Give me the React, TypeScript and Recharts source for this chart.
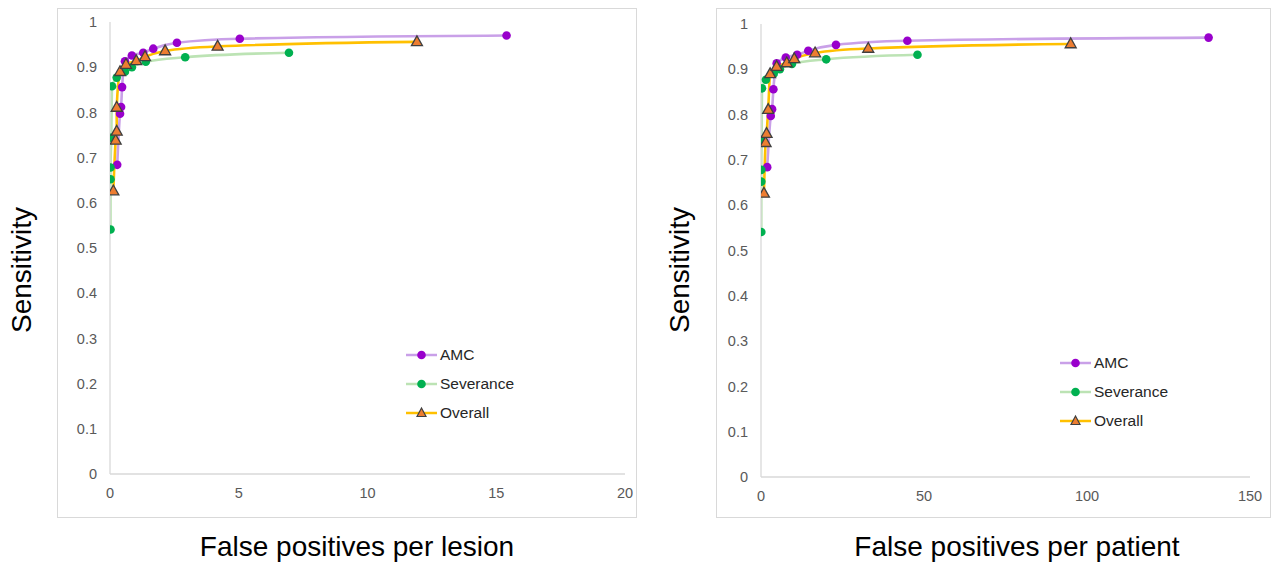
import React from "react";
import { ComposedChart, Line, XAxis, YAxis } from "recharts";

// Sensitivity values per operating point (shared by both panels)
const amcSens = [0.684, 0.797, 0.812, 0.856, 0.913, 0.926, 0.932, 0.941, 0.954, 0.963, 0.970];
const severanceSens = [0.541, 0.652, 0.678, 0.744, 0.858, 0.877, 0.890, 0.900, 0.912, 0.922, 0.932];
const overallSens = [0.626, 0.738, 0.758, 0.811, 0.890, 0.906, 0.914, 0.923, 0.936, 0.946, 0.956];

// False positives per lesion (left panel)
const amcFpLesion = [0.28, 0.39, 0.43, 0.47, 0.58, 0.85, 1.29, 1.68, 2.6, 5.04, 15.4];
const severanceFpLesion = [0.02, 0.02, 0.02, 0.05, 0.08, 0.26, 0.58, 0.85, 1.39, 2.92, 6.95];
const overallFpLesion = [0.13, 0.22, 0.26, 0.26, 0.39, 0.62, 1.02, 1.36, 2.14, 4.18, 11.92];

// False positives per patient (right panel)
const amcFpPatient = [1.9, 3.0, 3.4, 3.8, 4.8, 7.6, 11.1, 14.5, 23.0, 44.9, 137.3];
const severanceFpPatient = [0.1, 0.1, 0.1, 0.2, 0.3, 1.5, 3.9, 5.8, 9.5, 20.0, 48.0];
const overallFpPatient = [0.9, 1.4, 1.7, 2.2, 2.8, 4.8, 7.9, 10.2, 16.6, 32.9, 95.0];

const seriesNames = ["AMC", "Severance", "Overall"];
const yTicks = [0, 0.1, 0.2, 0.3, 0.4, 0.5, 0.6, 0.7, 0.8, 0.9, 1];
const lesionTicks = [0, 5, 10, 15, 20];
const patientTicks = [0, 50, 100, 150];

const FONT = "'Liberation Sans', Arial, sans-serif";
const AMC_LINE = "#C9A0E8";
const AMC_DOT = "#9900CC";
const SEV_LINE = "#BCE3B4";
const SEV_DOT = "#00B050";
const OVR_LINE = "#FFC000";
const OVR_FILL = "#ED7D31";
const OVR_STROKE = "#404040";

const zip = (xs: number[], ys: number[]) => xs.map((x, i) => ({ x, y: ys[i] }));

const circleDot = (color: string) => (props: any) => {
  const { cx, cy, index } = props;
  if (cx == null || cy == null) return <g key={`c-${index}`} />;
  return <circle key={`c-${index}`} cx={cx} cy={cy} r={4.3} fill={color} stroke="none" />;
};

const triDot = (props: any) => {
  const { cx, cy, index } = props;
  if (cx == null || cy == null) return <g key={`t-${index}`} />;
  const pts = `${cx},${cy - 6} ${cx - 5.5},${cy + 3.8} ${cx + 5.5},${cy + 3.8}`;
  return <polygon key={`t-${index}`} points={pts} fill={OVR_FILL} stroke={OVR_STROKE} strokeWidth={1.3} />;
};

const fmtY = (v: number) => String(Math.round(v * 10) / 10);

function LegendBox({ left, top }: { left: number; top: number }) {
  const rows = [
    { name: seriesNames[0], line: AMC_LINE, kind: "c", color: AMC_DOT },
    { name: seriesNames[1], line: SEV_LINE, kind: "c", color: SEV_DOT },
    { name: seriesNames[2], line: OVR_LINE, kind: "t", color: OVR_FILL },
  ];
  return (
    <div style={{ position: "absolute", left, top }}>
      {rows.map((r, i) => (
        <div key={r.name} style={{ position: "absolute", left: 0, top: i * 29 - 10, height: 20, display: "flex", alignItems: "center", whiteSpace: "nowrap" }}>
          <svg width={34} height={20} style={{ display: "block" }}>
            <line x1={0} y1={10} x2={31} y2={10} stroke={r.line} strokeWidth={2.5} />
            {r.kind === "c" ? (
              <circle cx={15.5} cy={10} r={4.3} fill={r.color} />
            ) : (
              <polygon points="15.5,5 11,13.5 20,13.5" fill={OVR_FILL} stroke={OVR_STROKE} strokeWidth={1.2} />
            )}
          </svg>
          <span style={{ fontFamily: FONT, fontSize: 15.5, color: "#262626" }}>{r.name}</span>
        </div>
      ))}
    </div>
  );
}

function Panel(props: {
  left: number;
  xMax: number;
  xTicks: number[];
  amc: { x: number; y: number }[];
  sev: { x: number; y: number }[];
  ovr: { x: number; y: number }[];
  margin: { top: number; right: number; bottom: number; left: number };
}) {
  const { left, xMax, xTicks, amc, sev, ovr, margin } = props;
  return (
    <div style={{ position: "absolute", left, top: 0, width: 640, height: 564 }}>
      <ComposedChart width={640} height={564} margin={margin}>
        <XAxis
          type="number"
          dataKey="x"
          domain={[0, xMax]}
          ticks={xTicks}
          allowDataOverflow
          tickLine={false}
          tickSize={8}
          tickMargin={6}
          height={30}
          axisLine={{ stroke: "#D9D9D9", strokeWidth: 1.3 }}
          tick={{ fill: "#595959", fontSize: 14.5, fontFamily: FONT }}
        />
        <YAxis
          type="number"
          dataKey="y"
          domain={[0, 1]}
          ticks={yTicks}
          tickFormatter={fmtY}
          tickLine={false}
          tickSize={8}
          tickMargin={5}
          width={50}
          axisLine={{ stroke: "#D9D9D9", strokeWidth: 1.3 }}
          tick={{ fill: "#595959", fontSize: 14.5, fontFamily: FONT }}
        />
        <Line data={amc} dataKey="y" type="monotone" stroke={AMC_LINE} strokeWidth={2.6} dot={circleDot(AMC_DOT)} activeDot={false} isAnimationActive={false} />
        <Line data={sev} dataKey="y" type="monotone" stroke={SEV_LINE} strokeWidth={2.6} dot={circleDot(SEV_DOT)} activeDot={false} isAnimationActive={false} />
        <Line data={ovr} dataKey="y" type="monotone" stroke={OVR_LINE} strokeWidth={2.6} dot={triDot} activeDot={false} isAnimationActive={false} />
      </ComposedChart>
    </div>
  );
}

export default function App() {
  const titleStyle: React.CSSProperties = {
    position: "absolute",
    fontFamily: FONT,
    fontSize: 28,
    color: "#000",
    whiteSpace: "nowrap",
  };
  return (
    <div style={{ position: "absolute", left: 0, top: 0, width: 1280, height: 564, background: "#fff", overflow: "hidden" }}>
      <div style={{ position: "absolute", left: 57, top: 8, width: 578, height: 508, border: "1px solid #D9D9D9" }} />
      <div style={{ position: "absolute", left: 716, top: 8, width: 553, height: 508, border: "1px solid #D9D9D9" }} />
      <Panel
        left={0}
        xMax={20}
        xTicks={lesionTicks}
        amc={zip(amcFpLesion, amcSens)}
        sev={zip(severanceFpLesion, severanceSens)}
        ovr={zip(overallFpLesion, overallSens)}
        margin={{ top: 22, right: 15, bottom: 60, left: 60 }}
      />
      <Panel
        left={640}
        xMax={150}
        xTicks={patientTicks}
        amc={zip(amcFpPatient, amcSens)}
        sev={zip(severanceFpPatient, severanceSens)}
        ovr={zip(overallFpPatient, overallSens)}
        margin={{ top: 24, right: 30, bottom: 57, left: 71 }}
      />
      <LegendBox left={406} top={355} />
      <LegendBox left={1060} top={363} />
      <div style={{ ...titleStyle, left: 22, top: 270, transform: "translate(-50%, -50%) rotate(-90deg)" }}>Sensitivity</div>
      <div style={{ ...titleStyle, left: 680, top: 270, transform: "translate(-50%, -50%) rotate(-90deg)" }}>Sensitivity</div>
      <div style={{ ...titleStyle, left: 357, top: 547, transform: "translate(-50%, -50%)" }}>False positives per lesion</div>
      <div style={{ ...titleStyle, left: 1017, top: 547, transform: "translate(-50%, -50%)" }}>False positives per patient</div>
    </div>
  );
}
